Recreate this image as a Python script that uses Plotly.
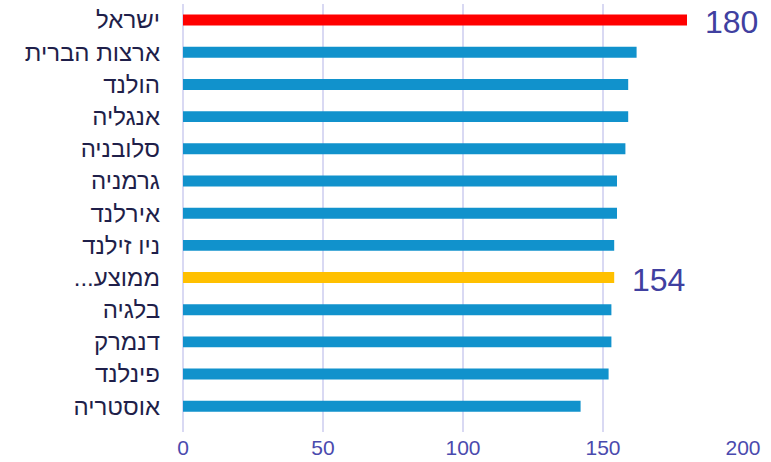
import plotly.graph_objects as go

countries = ["ישראל", "ארצות הברית", "הולנד", "אנגליה", "סלובניה", "גרמניה", "אירלנד",
             "ניו זילנד", "\u200fממוצע...\u200f", "בלגיה", "דנמרק", "פינלנד", "אוסטריה"]
values = [180, 162, 159, 159, 158, 155, 155, 154, 154, 153, 153, 152, 142]
colors = ["#FF0000"] + ["#1192CC"] * 7 + ["#FFC000"] + ["#1192CC"] * 4
labeled = [0, 8]

fig = go.Figure(go.Bar(
    x=values, y=countries, orientation="h",
    marker=dict(color=colors, line=dict(width=0)),
    width=0.34,
))

for i in labeled:
    fig.add_annotation(x=values[i], y=countries[i], text=str(values[i]),
                       xanchor="left", xshift=16, yshift=-2, showarrow=False,
                       font=dict(family="Liberation Sans, Arial", size=32, color="#4040A0"))

fig.update_layout(
    width=771, height=462,
    margin=dict(l=183, r=28, t=4, b=30),
    plot_bgcolor="white", paper_bgcolor="white",
    showlegend=False,
    font=dict(family="Liberation Sans, Arial"),
    xaxis=dict(range=[0, 200], tickvals=[0, 50, 100, 150, 200], automargin=False,
               showgrid=True, gridcolor="#D9D9F3", gridwidth=1.5,
               zeroline=True, zerolinecolor="#D9D9F3", zerolinewidth=1.5,
               showline=False,
               tickfont=dict(size=21, color="#4A4AAE"), ticks="", ticklabelstandoff=1),
    yaxis=dict(type="category", range=[12.8, -0.5], showgrid=False, zeroline=False,
               automargin=False,
               tickfont=dict(size=24, color="#1F1F4A"), ticks="", ticklabelstandoff=22),
)

fig.write_html("out.html")
